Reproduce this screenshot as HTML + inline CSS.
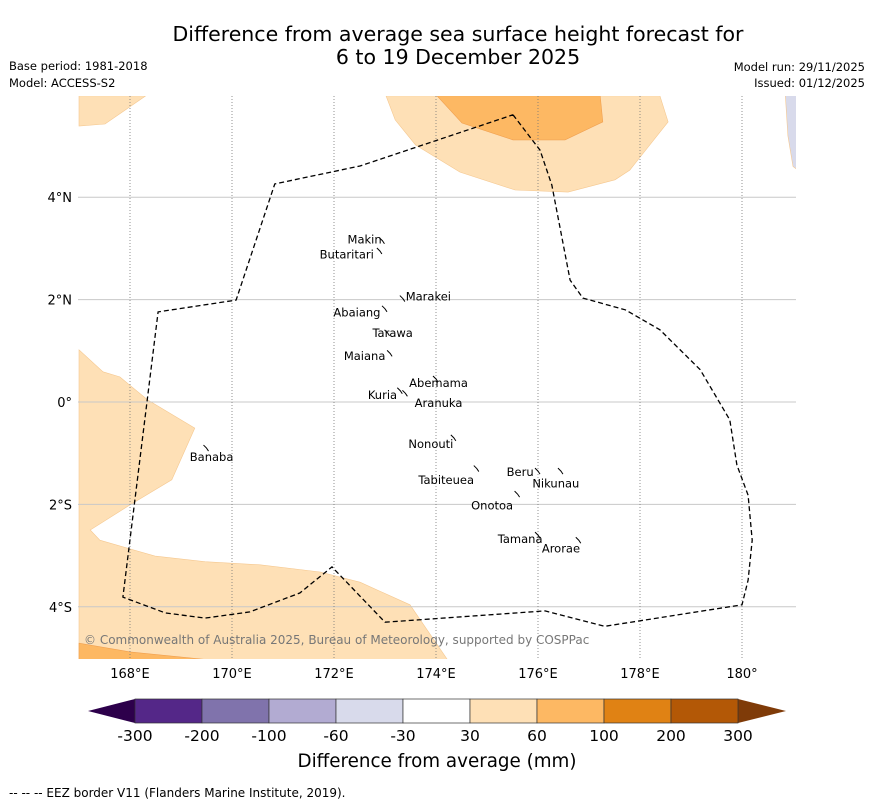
<!DOCTYPE html>
<html><head><meta charset="utf-8"><style>
body{margin:0;background:#fff;font-family:"DejaVu Sans","Liberation Sans",sans-serif}
</style></head><body>
<svg id="chart" width="873" height="804" xmlns="http://www.w3.org/2000/svg" font-family="DejaVu Sans, Liberation Sans, sans-serif">
<text x="458" y="41" font-size="20.5" text-anchor="middle">Difference from average sea surface height forecast for</text>
<text x="458" y="64" font-size="20.5" text-anchor="middle">6 to 19 December 2025</text>
<text x="9" y="70" font-size="11.5">Base period: 1981-2018</text>
<text x="9" y="87" font-size="11.5">Model: ACCESS-S2</text>
<text x="865" y="71" font-size="11.5" text-anchor="end">Model run: 29/11/2025</text>
<text x="865" y="87" font-size="11.5" text-anchor="end">Issued: 01/12/2025</text>
<defs><clipPath id="mapclip"><rect x="78" y="96" width="718" height="563"/></clipPath></defs>
<g id="map" clip-path="url(#mapclip)"></g>
<g id="axes"></g>
<g id="cbar"></g>
<text x="437" y="767" font-size="18.3" text-anchor="middle">Difference from average (mm)</text>
<text x="9" y="797" font-size="12">--  --  -- EEZ border V11 (Flanders Marine Institute, 2019).</text>
</svg>
<script>
const lonTicks=[168,170,172,174,176,178,180];
const latTicks=[4,2,0,-2,-4];
const anomalyLight=[[167,5.98],[168.31,5.98],[167.51,5.43],[167,5.39]];
const anomalyTop=[[173.02,5.98],[173.2,5.51],[173.6,5.02],[174.47,4.49],[175.55,4.14],[176.59,4.10],[177.51,4.34],[177.8,4.53],[178.55,5.47],[178.39,5.98]];
const anomalyTopDark=[[174.02,5.98],[174.51,5.45],[175.51,5.12],[176.53,5.12],[177.27,5.47],[177.22,5.98]];
const anomalyLeft=[[167,1.02],[167.47,0.59],[167.80,0.49],[168.35,0.04],[169.27,-0.51],[168.82,-1.52],[168.0,-2.01],[167.22,-2.5],[167.41,-2.70],[168.49,-3.01],[169.47,-3.12],[170.55,-3.18],[171.73,-3.32],[172.51,-3.52],[173.49,-3.96],[174.27,-5.1],[167,-5.1]];
const anomalyBottomDark=[[167,-4.71],[168.0,-4.88],[169.7,-5.05],[167,-5.05]];
const anomalyRightBlue=[[180.85,6],[181.2,6],[181.2,4.45],[181.0,4.6],[180.9,5.2]];
const eez=[[175.51,5.61],[176.04,4.92],[176.27,4.24],[176.63,2.38],[176.88,2.03],[177.71,1.80],[178.39,1.41],[179.18,0.63],[179.76,-0.35],[179.90,-1.23],[180.12,-1.82],[180.20,-2.70],[180.12,-3.48],[180.0,-3.96],[177.31,-4.38],[176.14,-4.08],[173.0,-4.30],[171.96,-3.22],[171.33,-3.73],[170.35,-4.10],[169.47,-4.22],[168.69,-4.12],[167.86,-3.81],[168.55,1.76],[170.08,1.99],[170.84,4.26],[172.51,4.61],[175.51,5.61]];
const islandNames=["Makin","Butaritari","Marakei","Abaiang","Tarawa","Maiana","Abemama","Kuria","Aranuka","Nonouti","Banaba","Beru","Nikunau","Tabiteuea","Onotoa","Tamana","Arorae"];
const islandLon=[172.95,172.9,173.35,173.0,173.05,173.1,174.0,173.3,173.4,174.35,169.5,176.0,176.45,174.8,175.6,176.0,176.8];
const islandLat=[3.15,2.95,2.02,1.82,1.35,0.95,0.45,0.22,0.17,-0.7,-0.9,-1.35,-1.35,-1.3,-1.8,-2.6,-2.7];
const labelLon=[172.6,172.25,173.85,172.45,173.15,172.6,174.05,172.95,174.05,173.9,169.6,175.65,176.35,174.2,175.1,175.65,176.45];
const labelLat=[3.1,2.8,1.98,1.67,1.27,0.82,0.29,0.06,-0.1,-0.9,-1.15,-1.45,-1.67,-1.6,-2.1,-2.75,-2.94];
const cbLabels=["-300","-200","-100","-60","-30","30","60","100","200","300"];
const cbColors=["#542788","#8073ac","#b2abd2","#d8daeb","#ffffff","#fee0b6","#fdb863","#e08214","#b35806"];
const NS="http://www.w3.org/2000/svg";
const X=lon=>79+(lon-167)*51, Y=lat=>402-lat*51.2;
function mk(tag,attrs,parent){const e=document.createElementNS(NS,tag);for(const k in attrs)e.setAttribute(k,attrs[k]);parent.appendChild(e);return e;}
const map=document.getElementById('map'), axes=document.getElementById('axes');
const pts=a=>a.map(p=>X(p[0]).toFixed(1)+','+Y(p[1]).toFixed(1)).join(' ');
function region(a,fill,name){const e=mk('polygon',{points:pts(a),fill:fill,stroke:fill==='#fdb863'?'#f0a050':'#f5c890','stroke-width':0.6},map);

}
region(anomalyLight,'#fee0b6','anomaly-region-topleft');
region(anomalyTop,'#fee0b6','anomaly-region-north');
region(anomalyTopDark,'#fdb863','anomaly-region-north-strong');
region(anomalyLeft,'#fee0b6','anomaly-region-southwest');
region(anomalyBottomDark,'#fdb863','anomaly-region-south-strong');
region(anomalyRightBlue,'#d8daeb','anomaly-region-east-negative');
latTicks.forEach(l=>{const e=mk('line',{x1:78,x2:796,y1:Y(l),y2:Y(l),stroke:'#c8c8c8','stroke-width':1},map);


const t=mk('text',{x:72,y:Y(l)+5,'font-size':13,'text-anchor':'end'},axes);
t.textContent=l===0?'0°':Math.abs(l)+'°'+(l>0?'N':'S');

});
lonTicks.forEach(l=>{const e=mk('line',{x1:X(l),x2:X(l),y1:96,y2:659,stroke:'#777','stroke-width':0.8,'stroke-dasharray':'1,2'},map);


const t=mk('text',{x:X(l),y:678,'font-size':13,'text-anchor':'middle'},axes);
t.textContent=l===180?'180°':l+'°E';

});
const ez=mk('polyline',{points:pts(eez),fill:'none',stroke:'#000','stroke-width':1.3,'stroke-dasharray':'5,3'},map);


islandNames.forEach((n,i)=>{const m=mk('path',{d:`M${X(islandLon[i])-3},${Y(islandLat[i])-3} l3,3 l2,3`,stroke:'#000',fill:'none','stroke-width':1},map);


const t=mk('text',{x:X(labelLon[i]),y:Y(labelLat[i]),'font-size':11.5,'text-anchor':'middle'},map);
t.textContent=n;

});
const cr=mk('text',{x:84,y:644,'font-size':12,fill:'#777'},map);
cr.textContent='© Commonwealth of Australia 2025, Bureau of Meteorology, supported by COSPPac';


const cb=document.getElementById('cbar'), cx0=135, cw=67, cy=699, ch=24;
const la=mk('polygon',{points:`${cx0},${cy} ${cx0},${cy+ch} 88,${cy+ch/2}`,fill:'#2d004b'},cb);


const ra=mk('polygon',{points:`${cx0+9*cw},${cy} ${cx0+9*cw},${cy+ch} 786,${cy+ch/2}`,fill:'#7f3b08'},cb);


cbColors.forEach((c,i)=>{const r=mk('rect',{x:cx0+i*cw,y:cy,width:cw,height:ch,fill:c,stroke:'#333','stroke-width':0.7},cb);

});
cbLabels.forEach((s,i)=>{const t=mk('text',{x:cx0+i*cw,y:741,'font-size':15.5,'text-anchor':'middle'},cb);
t.textContent=s;

});
</script>
</body></html>
